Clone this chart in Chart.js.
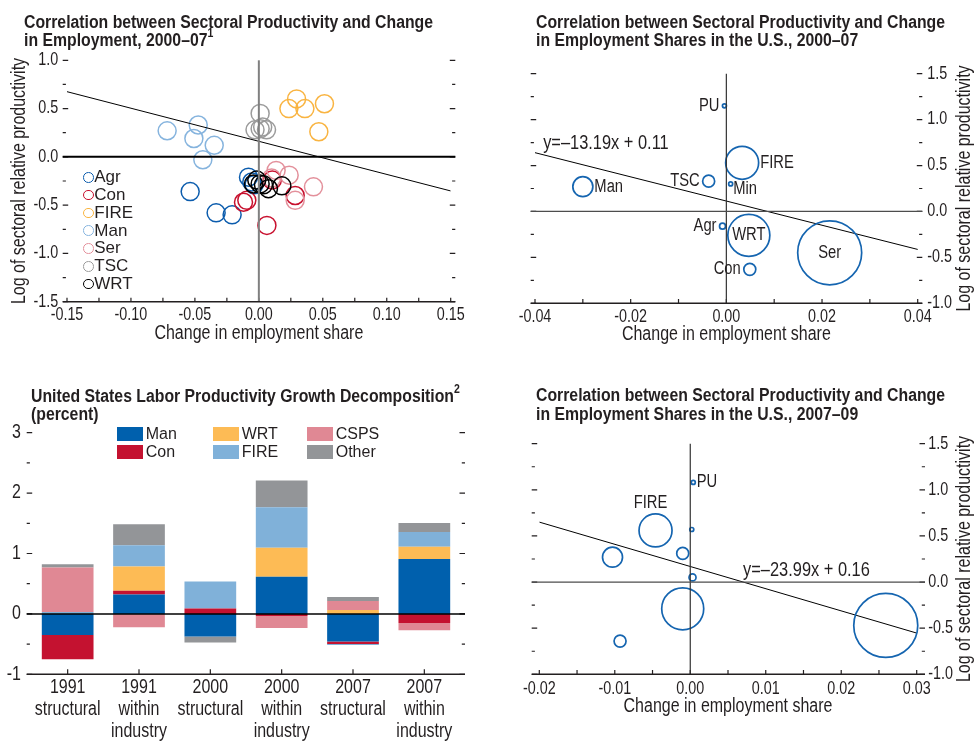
<!DOCTYPE html>
<html>
<head>
<meta charset="utf-8">
<script src="https://cdn.jsdelivr.net/npm/chart.js@4.4.1/dist/chart.umd.min.js"></script>
<style>
  html, body { margin: 0; padding: 0; background: #fff; }
  #page { position: relative; width: 975px; height: 742px; overflow: hidden;
          font-family: "Liberation Sans", Arial, sans-serif; color: #231f20; }
  canvas { position: absolute; }
  .title { position: absolute; font-weight: bold; font-size: 18px; line-height: 18.5px; white-space: nowrap;
           z-index: 2; transform-origin: 0 0; }
  .title sup { font-size: 12px; line-height: 0; position: relative; top: -2px; }
  .leg { position: absolute; z-index: 2; font-size: 16px; }
  .leg1 { font-size: 17px; }
  .leg1 div { display: flex; align-items: center; height: 17.8px; }
  .leg1 i { display: inline-block; box-sizing: border-box; width: 10.7px; height: 10.7px; border: 1.5px solid; border-radius: 50%; margin-right: 0.6px; }
  .leg3 div { position: absolute; display: flex; align-items: center; height: 18px; white-space: nowrap; }
  .leg3 i { display: inline-block; width: 26px; height: 14px; margin-right: 2.7px; }
</style>
</head>
<body>
<div id="page">
  <canvas id="c1" width="480" height="305" style="left:0;top:40px"></canvas>
  <canvas id="c2" width="485" height="306" style="left:490px;top:40px"></canvas>
  <canvas id="c3" width="487" height="332" style="left:0;top:410px"></canvas>
  <canvas id="c4" width="485" height="308" style="left:490px;top:410px"></canvas>

  <div class="title" style="left:24px;top:12.8px"><span id="t1a">Correlation between Sectoral Productivity and Change</span><br>in Employment, 2000–07<sup>1</sup></div>
  <div class="title" style="left:535.7px;top:12.8px">Correlation between Sectoral Productivity and Change<br>in Employment Shares in the U.S., 2000–07</div>
  <div class="title" style="left:30.7px;top:386.8px">United States Labor Productivity Growth Decomposition<sup>2</sup><br>(percent)</div>
  <div class="title" style="left:535.7px;top:386.2px">Correlation between Sectoral Productivity and Change<br>in Employment Shares in the U.S., 2007–09</div>

  <div id="leg1" class="leg leg1" style="left:83px;top:168.4px"></div>
  <div id="leg3" class="leg leg3" style="left:0;top:0"></div>
</div>

<script>
// ---------- data ----------
// top left: 2000-07, one circle per sector and country
const sectors1 = ['Agr', 'Con', 'FIRE', 'Man', 'Ser', 'TSC', 'WRT'];
const agrX  = [-0.0537, -0.0334, -0.0209, -0.0081, -0.0055, -0.0037];
const agrY  = [-0.36, -0.58, -0.60, -0.21, -0.26, -0.29];
const conX  = [-0.0120, -0.0094, 0.0063, 0.0284, 0.0105];
const conY  = [-0.47, -0.45, -0.71, -0.40, -0.24];
const fireX = [0.0235, 0.0295, 0.0360, 0.0513, 0.0469];
const fireY = [0.50, 0.60, 0.50, 0.55, 0.26];
const manX  = [-0.0717, -0.0474, -0.0508, -0.0349, -0.0438];
const manY  = [0.27, 0.33, 0.19, 0.12, -0.03];
const serX  = [0.0135, 0.0237, 0.0427, 0.0284, 0.0100];
const serY  = [-0.14, -0.19, -0.31, -0.45, -0.22];
const tscX  = [0.0010, -0.0030, 0.0010, 0.0060, 0.0030];
const tscY  = [0.45, 0.28, 0.29, 0.28, 0.31];
const wrtX  = [-0.0016, 0.0010, 0.0036, 0.0075, 0.0180, -0.0042];
const wrtY  = [-0.24, -0.28, -0.29, -0.33, -0.30, -0.28];
const trend1X = [-0.15, 0.15];
const trend1Y = [0.675, -0.353];

// top right: U.S. 2000-07
const names2 = ['PU', 'FIRE', 'TSC', 'Min', 'Man', 'Agr', 'WRT', 'Ser', 'Con'];
const x2     = [-0.0004, 0.0033, -0.0037, 0.0009, -0.0300, -0.0008, 0.0047, 0.0216, 0.0049];
const y2     = [1.15, 0.53, 0.33, 0.30, 0.27, -0.16, -0.26, -0.45, -0.63];
const size2  = [2, 16.5, 6, 2, 10, 3, 21, 32, 6];
const trend2X = [-0.04, 0.0405];
const trend2Y = [0.64, -0.42];
const eq2 = 'y=–13.19x + 0.11';

// bottom right: U.S. 2007-09
const names4 = ['PU', 'FIRE', '', '', '', '', '', '', ''];
const x4     = [0.0004, -0.0046, 0.0002, -0.0010, -0.0103, 0.0003, -0.0010, -0.0093, 0.0259];
const y4     = [1.08, 0.56, 0.57, 0.31, 0.27, 0.05, -0.29, -0.64, -0.47];
const size4  = [2, 16.5, 2, 6, 10, 3.5, 21, 6, 32];
const trend4X = [-0.02, 0.0307];
const trend4Y = [0.65, -0.57];
const eq4 = 'y=–23.99x + 0.16';

// bottom left: decomposition (percent)
const barCats = [['1991', 'structural'], ['1991', 'within', 'industry'], ['2000', 'structural'],
                 ['2000', 'within', 'industry'], ['2007', 'structural'], ['2007', 'within', 'industry']];
const barSeries = ['Man', 'Con', 'WRT', 'FIRE', 'CSPS', 'Other'];
const barMan   = [-0.35, 0.32, -0.375, 0.615, -0.455, 0.91];
const barCon   = [-0.40, 0.065, 0.09, -0.035, -0.045, -0.15];
const barWRT   = [0, 0.40, 0, 0.48, 0.065, 0.20];
const barFIRE  = [0.03, 0.35, 0.445, 0.67, -0.015, 0.245];
const barCSPS  = [0.74, -0.22, 0, -0.20, 0.15, -0.12];
const barOther = [0.05, 0.35, -0.10, 0.445, 0.065, 0.15];

// ticks
const x1Ticks = [-0.15, -0.125, -0.1, -0.075, -0.05, -0.025, 0, 0.025, 0.05, 0.075, 0.1, 0.125, 0.15];
const x1Labels = ['-0.15', '', '-0.10', '', '-0.05', '', '0.00', '', '0.05', '', '0.10', '', '0.15'];
const y1Ticks = [-1.5, -1.25, -1, -0.75, -0.5, -0.25, 0, 0.25, 0.5, 0.75, 1];
const y1Labels = ['-1.5', '', '-1.0', '', '-0.5', '', '0.0', '', '0.5', '', '1.0'];
const x2Ticks = [-0.04, -0.03, -0.02, -0.01, 0, 0.01, 0.02, 0.03, 0.04];
const x2Labels = ['-0.04', '', '-0.02', '', '0.00', '', '0.02', '', '0.04'];
const y2Ticks = [-1, -0.75, -0.5, -0.25, 0, 0.25, 0.5, 0.75, 1, 1.25, 1.5];
const y2Labels = ['-1.0', '', '-0.5', '', '0.0', '', '0.5', '', '1.0', '', '1.5'];
const x4Ticks = [-0.02, -0.015, -0.01, -0.005, 0, 0.005, 0.01, 0.015, 0.02, 0.025, 0.03];
const x4Labels = ['-0.02', '', '-0.01', '', '0.00', '', '0.01', '', '0.02', '', '0.03'];
const y3Ticks = [-1, -0.5, 0, 0.5, 1, 1.5, 2, 2.5, 3];
const y3Labels = ['-1', '', '0', '', '1', '', '2', '', '3'];

// ---------- styles ----------
const FONT = '"Liberation Sans", Arial, sans-serif';
const INK = '#231f20';
const CONDENSE = 0.82;   // canvas text squeezed to a narrow face
const sectorColors = ['#0b5cad', '#c8102e', '#f9b441', '#86b4de', '#e3909b', '#9b9b9b', '#000000'];
const barColors = ['#0060ad', '#c41230', '#fdbb55', '#80b1d9', '#e08894', '#939598'];
const BUBBLE_BLUE = '#1565b0';
const AXIS_TITLE = 19.5;

Chart.defaults.font.family = FONT;
Chart.defaults.font.size = 17.5;
Chart.defaults.color = INK;
Chart.defaults.animation = false;
Chart.defaults.events = [];
Chart.defaults.plugins.legend.display = false;
Chart.defaults.plugins.tooltip.enabled = false;

// no narrow font installed: draw all canvas text horizontally condensed
Chart.register({
  id: 'condense',
  beforeInit(chart) {
    const ctx = chart.ctx;
    const fill = ctx.fillText.bind(ctx);
    ctx.fillText = (text, x, y) => {
      ctx.save();
      ctx.translate(x, y);
      ctx.scale(CONDENSE, 1);
      fill(text, 0, 0);
      ctx.restore();
    };
  }
});

// frame: dashes on both sides, upward x ticks, zero lines, bottom axis line
const decor = {
  id: 'decor',
  afterDatasetsDraw(chart, args, o) {
    const {ctx, chartArea: a} = chart;
    const x = chart.scales.x, y = chart.scales.y;
    const L = a.left - o.ext[0], R = a.right + o.ext[1];
    ctx.save();
    ctx.strokeStyle = INK;
    ctx.lineWidth = 1.2;
    y.ticks.forEach(t => {
      const py = y.getPixelForValue(t.value);
      const len = t.label !== '' ? 5.5 : 3.2;
      ctx.beginPath();
      ctx.moveTo(L, py); ctx.lineTo(L + len, py);
      ctx.moveTo(R - len, py); ctx.lineTo(R, py);
      ctx.stroke();
    });
    x.ticks.forEach((t, i) => {
      const px = x.getPixelForTick(i);
      ctx.beginPath(); ctx.moveTo(px, a.bottom); ctx.lineTo(px, a.bottom - o.xTick); ctx.stroke();
    });
    if (o.zeroV) {
      const px = x.getPixelForValue(0);
      ctx.strokeStyle = o.zeroV.color; ctx.lineWidth = o.zeroV.width;
      ctx.beginPath(); ctx.moveTo(px, a.top); ctx.lineTo(px, a.bottom); ctx.stroke();
    }
    if (o.zeroH) {
      const py = y.getPixelForValue(0);
      ctx.strokeStyle = o.zeroH.color; ctx.lineWidth = o.zeroH.width;
      ctx.beginPath(); ctx.moveTo(L, py); ctx.lineTo(R, py); ctx.stroke();
    }
    ctx.strokeStyle = INK; ctx.lineWidth = 1.4;
    ctx.beginPath(); ctx.moveTo(L, a.bottom); ctx.lineTo(R, a.bottom); ctx.stroke();
    ctx.restore();
  }
};

// names next to the bubbles, the regression equation and the right-hand axis title
const notes = {
  id: 'notes',
  afterDatasetsDraw(chart, args, o) {
    const ctx = chart.ctx;
    const a = chart.chartArea;
    ctx.save();
    ctx.fillStyle = INK;
    ctx.textBaseline = 'middle';
    ctx.font = '18px ' + FONT;
    chart.getDatasetMeta(0).data.forEach((el, i) => {
      const name = o.names[i];
      if (!name) return;
      const r = el.options.radius, p = o.place[i];
      let px = el.x, py = el.y;
      if (p === 'left') { ctx.textAlign = 'right'; px -= r + 3; }
      else if (p === 'right') { ctx.textAlign = 'left'; px += r + 1.5; }
      else if (p === 'below') { ctx.textAlign = 'left'; px += r + 0.6; py += 5; }
      else if (p === 'above') { ctx.textAlign = 'center'; px -= 5; py -= r + 10.5; }
      else { ctx.textAlign = 'center'; }
      ctx.fillText(name, px, py);
    });
    ctx.font = '20px ' + FONT;
    ctx.textAlign = 'left';
    ctx.fillText(o.eq.text, chart.scales.x.getPixelForValue(o.eq.x), chart.scales.y.getPixelForValue(o.eq.y));
    // right-hand axis title, reading bottom to top
    ctx.font = AXIS_TITLE + 'px ' + FONT;
    ctx.textAlign = 'center';
    ctx.translate(chart.width - 10.5, (a.top + a.bottom) / 2);
    ctx.rotate(-Math.PI / 2);
    ctx.fillText(o.yTitle, 0, 0);
    ctx.restore();
  }
};

function axis(type, pos, min, max, ticks, labels, title, pad, size) {
  const ax = {
    type, position: pos, min, max,
    grid: { display: false, drawTicks: false },
    border: { display: false },
    afterFit: s => { if (s.isHorizontal()) s.height = size; else s.width = size; },
    ticks: { autoSkip: false, maxRotation: 0, padding: pad },
    title: { display: !!title, text: title, font: { size: AXIS_TITLE }, padding: 0, color: INK }
  };
  if (ticks) {
    ax.afterBuildTicks = s => { s.ticks = ticks.map(v => ({ value: v })); };
    ax.ticks.callback = (v, i) => labels[i];
  }
  return ax;
}

const pts = (xs, ys, rs) => xs.map((x, i) => ({ x, y: ys[i], r: Array.isArray(rs) ? rs[i] : rs }));

// ---------- top left ----------
const series1 = [[agrX, agrY], [conX, conY], [fireX, fireY], [manX, manY], [serX, serY], [tscX, tscY], [wrtX, wrtY]];
new Chart(document.getElementById('c1'), {
  type: 'bubble',
  data: {
    datasets: [
      { type: 'line', data: pts(trend1X, trend1Y, 0), borderColor: '#000', borderWidth: 1, pointRadius: 0, order: 0 },
      ...series1.map((s, k) => ({
        label: sectors1[k], data: pts(s[0], s[1], 9), borderColor: sectorColors[k],
        backgroundColor: 'rgba(0,0,0,0)', borderWidth: 1.5, clip: false, order: 8 - k
      }))
    ]
  },
  options: {
    responsive: false,
    layout: { padding: { left: 8.3, right: 29.3, top: 20.3, bottom: 0 } },
    scales: {
      x: axis('linear', 'bottom', -0.15, 0.15, x1Ticks, x1Labels, 'Change in employment share', 2.8, 43.3),
      y: axis('linear', 'left', -1.5, 1.0, y1Ticks, y1Labels, 'Log of sectoral relative productivity', 8.7, 58.7)
    },
    plugins: {
      decor: { ext: [4.3, 4.6], xTick: 4, zeroV: { color: '#808080', width: 2 }, zeroH: { color: '#000', width: 2 } }
    }
  },
  plugins: [decor]
});

// ---------- top right ----------
new Chart(document.getElementById('c2'), {
  type: 'bubble',
  data: {
    datasets: [
      { data: pts(x2, y2, size2), borderColor: BUBBLE_BLUE, backgroundColor: 'rgba(0,0,0,0)', borderWidth: 1.7, clip: false },
      { type: 'line', data: pts(trend2X, trend2Y, 0), borderColor: '#000', borderWidth: 1, pointRadius: 0 }
    ]
  },
  options: {
    responsive: false,
    layout: { padding: { left: 45, right: 0, top: 22, bottom: 0 } },
    scales: {
      x: axis('linear', 'bottom', -0.04, 0.04, x2Ticks, x2Labels, 'Change in employment share', 2.9, 42.7),
      y: axis('linear', 'right', -1.0, 1.5, y2Ticks, y2Labels, '', 9.6, 57.3)
    },
    plugins: {
      decor: { ext: [4.3, 4.6], xTick: 4.3, zeroV: { color: '#333', width: 1.2 }, zeroH: { color: '#4d4d4d', width: 1.2 } },
      notes: { names: names2, place: ['left', 'right', 'left', 'below', 'right', 'left', 'center', 'center', 'left'],
               eq: { text: eq2, x: -0.0383, y: 0.742 }, yTitle: 'Log of sectoral relative productivity' }
    }
  },
  plugins: [decor, notes]
});

// ---------- bottom left ----------
const barData = [barMan, barCon, barWRT, barFIRE, barCSPS, barOther];
const xBar = axis('category', 'bottom', undefined, undefined, null, null, '', 2.7, 67.7);
xBar.stacked = true;
xBar.ticks.font = { size: 19.5, lineHeight: 1.13 };
const yBar = axis('linear', 'left', -1, 3, y3Ticks, y3Labels, '', 11, 32);
yBar.stacked = true;
yBar.ticks.font = { size: 19.5 };
new Chart(document.getElementById('c3'), {
  type: 'bar',
  data: {
    labels: barCats,
    datasets: barData.map((d, k) => ({
      label: barSeries[k], data: d, backgroundColor: barColors[k], borderWidth: 0,
      categoryPercentage: 1, barPercentage: 0.725
    }))
  },
  options: {
    responsive: false,
    layout: { padding: { left: 0, right: 27, top: 22.3, bottom: 0 } },
    scales: { x: xBar, y: yBar },
    plugins: {
      decor: { ext: [5.3, 5], xTick: 5, zeroH: { color: '#000', width: 1.5 } }
    }
  },
  plugins: [decor]
});

// ---------- bottom right ----------
new Chart(document.getElementById('c4'), {
  type: 'bubble',
  data: {
    datasets: [
      { data: pts(x4, y4, size4), borderColor: BUBBLE_BLUE, backgroundColor: 'rgba(0,0,0,0)', borderWidth: 1.7, clip: false },
      { type: 'line', data: pts(trend4X, trend4Y, 0), borderColor: '#000', borderWidth: 1, pointRadius: 0 }
    ]
  },
  options: {
    responsive: false,
    layout: { padding: { left: 49.3, right: 0, top: 23.3, bottom: 0 } },
    scales: {
      x: axis('linear', 'bottom', -0.02, 0.03, x4Ticks, x4Labels, 'Change in employment share', 4.4, 43.7),
      y: axis('linear', 'right', -1.0, 1.5, y2Ticks, y2Labels, '', 11.6, 58.3)
    },
    plugins: {
      decor: { ext: [7.6, 8.3], xTick: 4.3, zeroV: { color: '#333', width: 1.2 }, zeroH: { color: '#4d4d4d', width: 1.2 } },
      notes: { names: names4, place: ['right', 'above', '', '', '', '', '', '', ''],
               eq: { text: eq4, x: 0.0070, y: 0.128 }, yTitle: 'Log of sectoral relative productivity' }
    }
  },
  plugins: [decor, notes]
});

// ---------- titles squeezed to the width of the original ----------
const squeeze = 409 / document.getElementById('t1a').getBoundingClientRect().width;
document.querySelectorAll('.title').forEach(el => { el.style.transform = 'scaleX(' + squeeze + ')'; });

// ---------- legends ----------
const leg1 = document.getElementById('leg1');
sectors1.forEach((s, k) => {
  const row = document.createElement('div');
  row.innerHTML = '<i style="border-color:' + sectorColors[k] + '"></i>' + s;
  leg1.appendChild(row);
});
const leg3 = document.getElementById('leg3');
const legCols = [117, 213, 307], legRows = [425, 443];
barSeries.forEach((s, k) => {
  const item = document.createElement('div');
  item.style.left = legCols[Math.floor(k / 2)] + 'px';
  item.style.top = legRows[k % 2] + 'px';
  item.innerHTML = '<i style="background:' + barColors[k] + '"></i>' + s;
  leg3.appendChild(item);
});
</script>
</body>
</html>
